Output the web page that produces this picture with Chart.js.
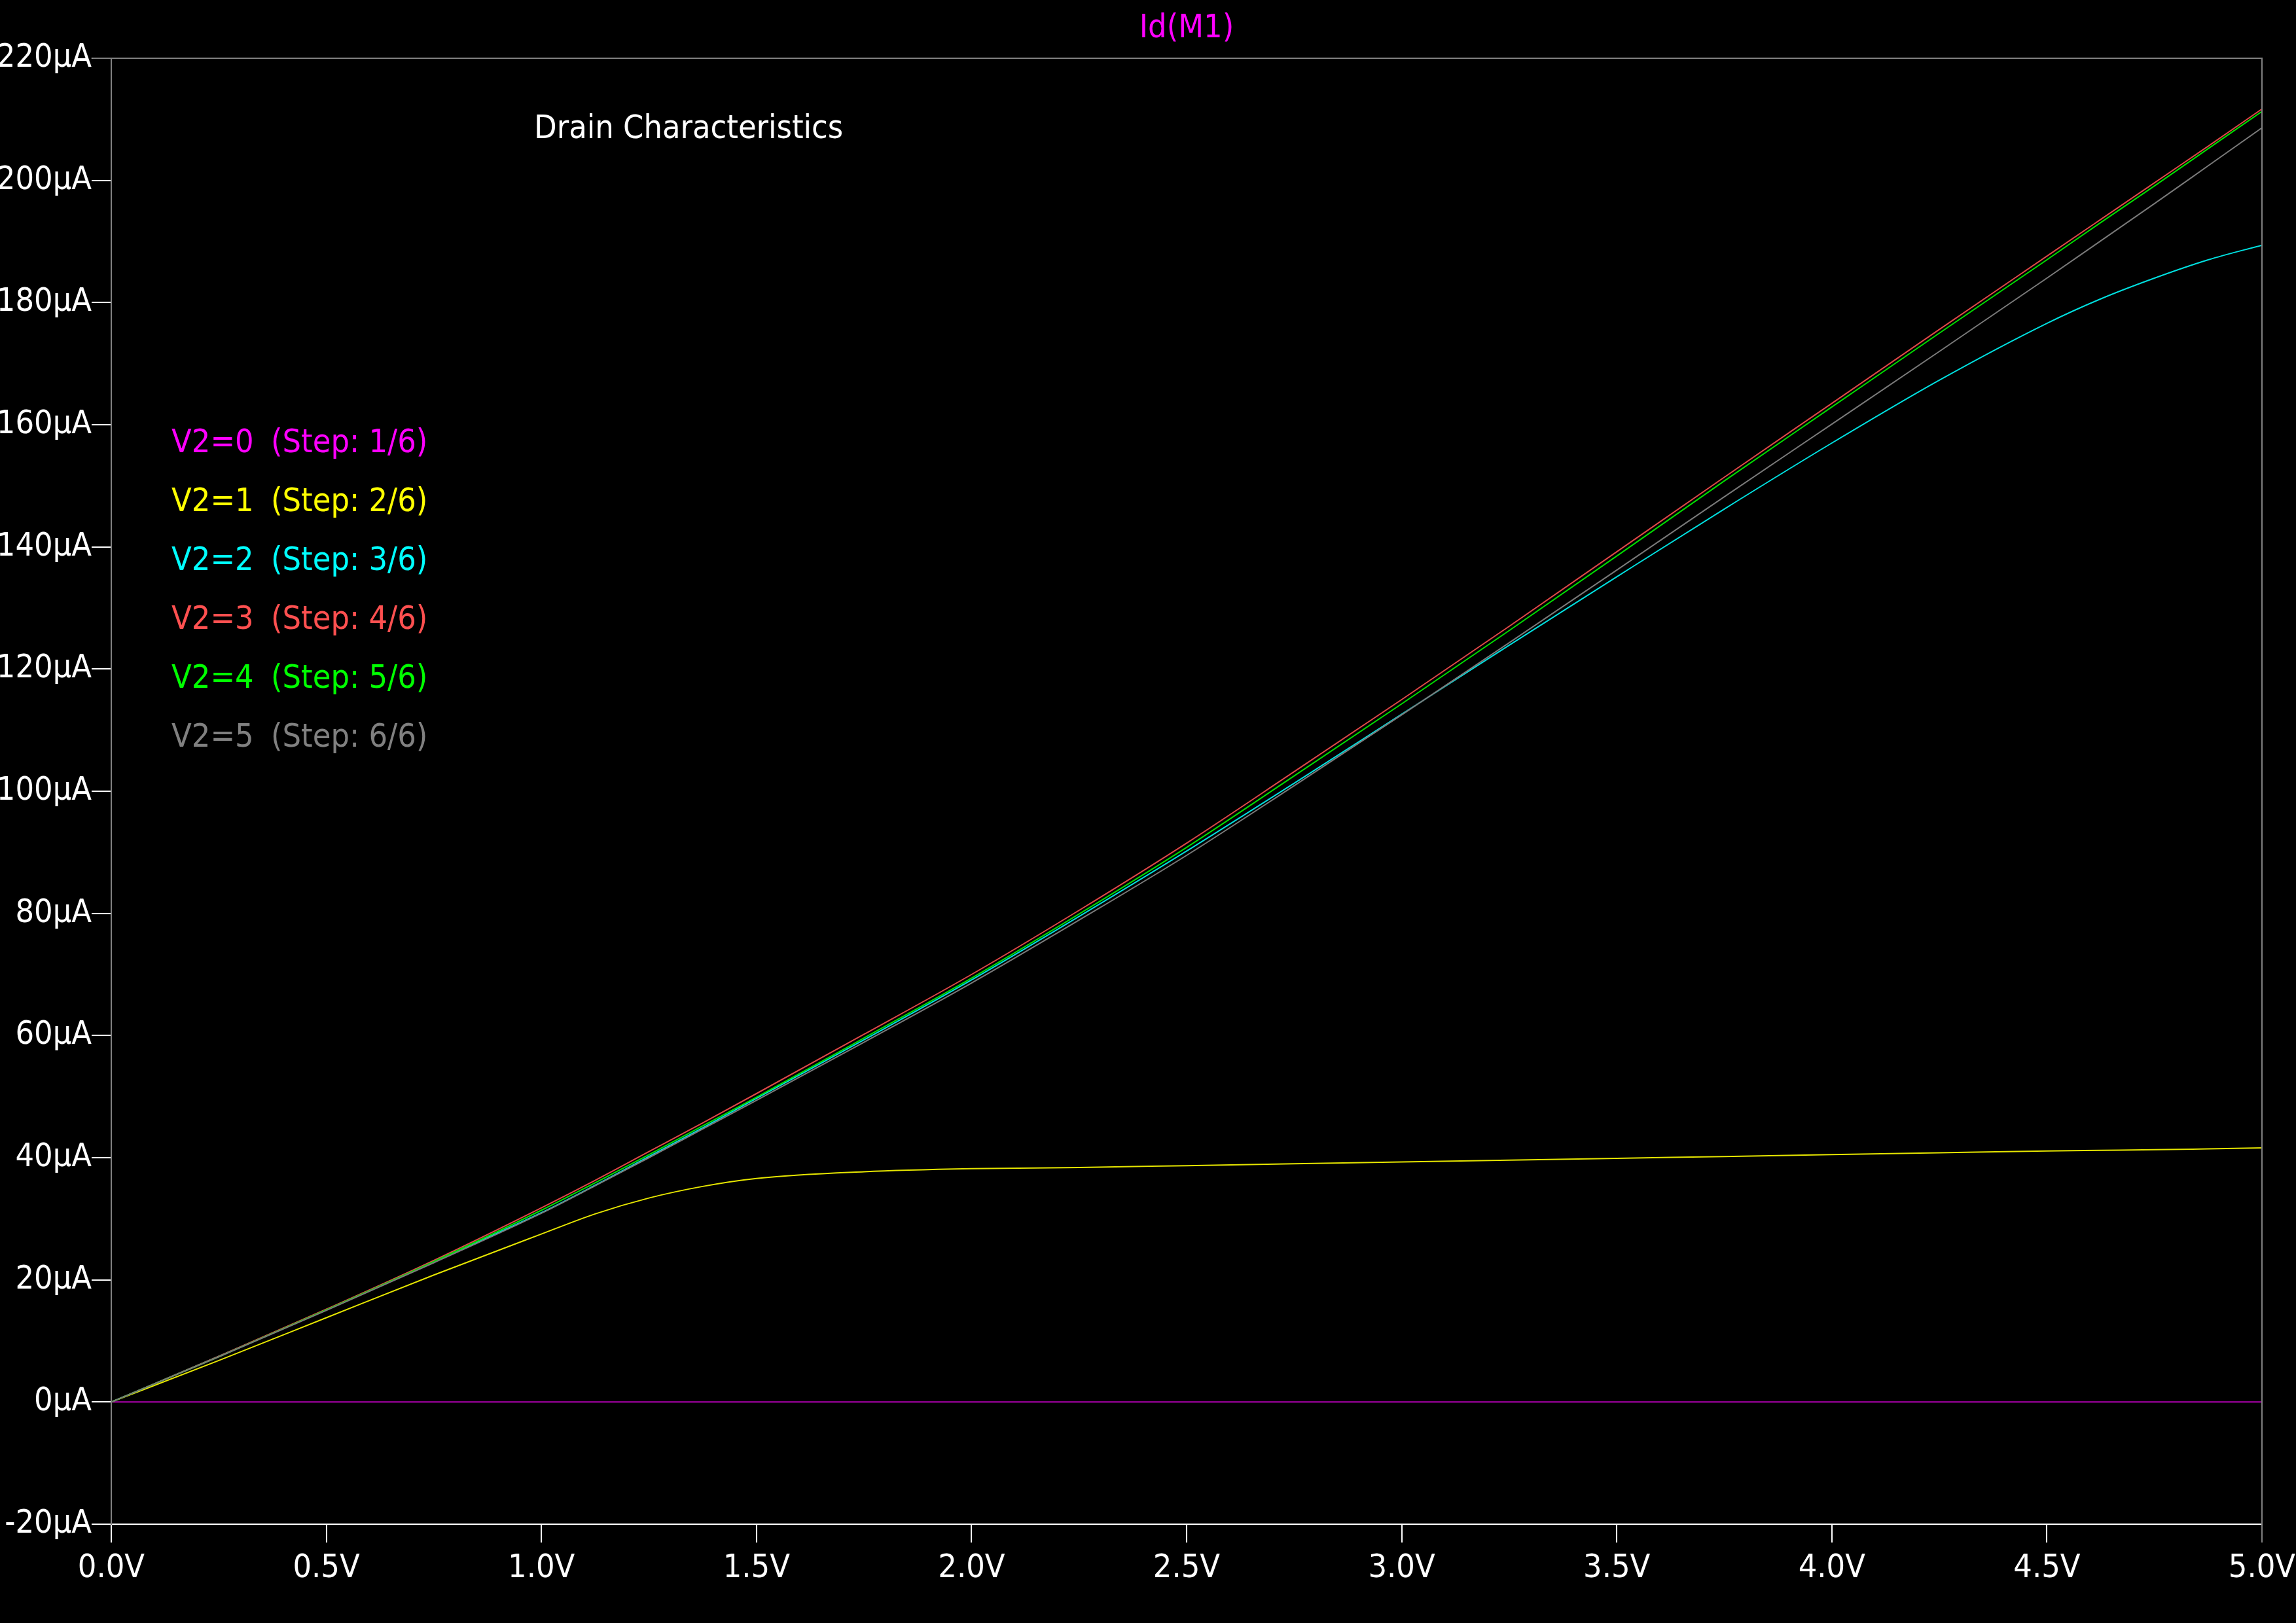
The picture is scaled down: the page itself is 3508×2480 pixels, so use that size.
<!DOCTYPE html>
<html>
<head>
<meta charset="utf-8">
<script src="https://cdn.jsdelivr.net/npm/chart.js@4/dist/chart.umd.min.js"></script>
<style>
html, body { margin: 0; padding: 0; background: #000; }
canvas { display: block; }
</style>
</head>
<body>
<canvas id="c" width="3508" height="2480"></canvas>
<script>
var FONT = '"DejaVu Sans Condensed", "DejaVu Sans", sans-serif';

// 漏极电压 (V)
var vds = [0, 0.25, 0.5, 0.75, 1.0, 1.125, 1.25, 1.375, 1.5, 1.75, 2.0, 2.25, 2.5, 2.75, 3.0, 3.25, 3.5, 3.75, 4.0, 4.25, 4.5, 4.625, 4.75, 4.875, 5.0];
// Id(M1) (µA)，每个步进一条
var idStep1 = [0, 0, 0, 0, 0, 0, 0, 0, 0, 0, 0, 0, 0, 0, 0, 0, 0, 0, 0, 0, 0, 0, 0, 0, 0];
var idStep2 = [0, 6.8, 13.8, 20.8, 27.5, 30.8, 33.4, 35.3, 36.6, 37.7, 38.2, 38.4, 38.7, 39.0, 39.3, 39.6, 39.9, 40.2, 40.5, 40.8, 41.1, 41.2, 41.3, 41.45, 41.6];
var idStep3 = [0, 7.5, 15.1, 23.0, 31.0, 35.5, 40.2, 44.9, 49.7, 59.3, 69.1, 79.5, 90.2, 101.3, 112.6, 123.9, 135.1, 146.2, 157.0, 167.3, 176.6, 180.6, 184.0, 187.0, 189.4];
var idStep4 = [0, 7.5, 15.2, 23.2, 31.8, 36.3, 41.0, 45.7, 50.5, 60.2, 70.0, 80.5, 91.5, 103.2, 115.0, 127.0, 139.2, 151.4, 163.5, 175.6, 187.6, 193.6, 199.6, 205.6, 211.7];
var idStep5 = [0, 7.4, 15.1, 23.0, 31.4, 35.9, 40.5, 45.2, 49.9, 59.6, 69.4, 79.9, 90.8, 102.5, 114.3, 126.3, 138.5, 150.8, 162.9, 175.0, 187.0, 193.1, 199.1, 205.2, 211.3];
var idStep6 = [0, 7.4, 15.0, 22.8, 30.9, 35.4, 40.0, 44.7, 49.4, 58.9, 68.6, 78.9, 89.5, 100.9, 112.5, 124.3, 136.2, 148.2, 160.1, 172.0, 184.0, 190.1, 196.2, 202.4, 208.6];

var stepNames = ['V2=0', 'V2=1', 'V2=2', 'V2=3', 'V2=4', 'V2=5'];
var stepTags = ['(Step: 1/6)', '(Step: 2/6)', '(Step: 3/6)', '(Step: 4/6)', '(Step: 5/6)', '(Step: 6/6)'];
var traceName = 'Id(M1)';
var plotLabel = 'Drain Characteristics';

// 颜色
var stepColors = ['#ff00ff', '#ffff00', '#00ffff', '#ff5050', '#00ff00', '#808080'];
var lineColors = ['#b000b0', '#e6e600', '#00e0e0', '#e04848', '#00e000', '#7a7a7a'];

var series = [idStep1, idStep2, idStep3, idStep4, idStep5, idStep6];

function toPoints(ys) {
    var pts = [];
    for (var i = 0; i < vds.length; i++) {
        pts.push({ x: vds[i], y: ys[i] });
    }
    return pts;
}

var datasets = [];
for (var i = 0; i < series.length; i++) {
    datasets.push({
        label: stepNames[i],
        data: toPoints(series[i]),
        borderColor: lineColors[i],
        borderWidth: 2,
        pointRadius: 0,
        cubicInterpolationMode: 'monotone',
        fill: false,
        order: series.length - i
    });
}

// 边框、标题和图例文字
var ltspicePlugin = {
    id: 'ltspice',
    afterDraw: function (chart) {
        var ctx = chart.ctx, a = chart.chartArea;
        ctx.save();
        ctx.strokeStyle = '#808080';
        ctx.lineWidth = 2;
        ctx.beginPath();
        ctx.moveTo(a.left - 29, a.top);
        ctx.lineTo(a.right, a.top);
        ctx.lineTo(a.right, a.bottom + 28);
        ctx.stroke();

        ctx.font = '50px ' + FONT;
        ctx.textBaseline = 'alphabetic';
        ctx.textAlign = 'center';
        ctx.fillStyle = '#ff00ff';
        ctx.fillText(traceName, (a.left + a.right) / 2, 57);

        ctx.textAlign = 'left';
        ctx.fillStyle = '#ffffff';
        ctx.fillText(plotLabel, a.left + 646, 211);

        for (var i = 0; i < stepNames.length; i++) {
            ctx.fillStyle = stepColors[i];
            ctx.fillText(stepNames[i], a.left + 92, 691 + 90 * i);
            ctx.fillText(stepTags[i], a.left + 244, 691 + 90 * i);
        }
        ctx.restore();
    }
};

var chart = new Chart(document.getElementById('c'), {
    type: 'line',
    data: { datasets: datasets },
    options: {
        responsive: false,
        animation: false,
        devicePixelRatio: 1,
        layout: { padding: { top: 89, right: 52, left: 0, bottom: 0 } },
        plugins: {
            legend: { display: false },
            title: { display: false },
            tooltip: { enabled: false }
        },
        scales: {
            x: {
                type: 'linear',
                min: 0,
                max: 5,
                afterFit: function (scale) {
                    scale.height = 151;
                    scale.paddingLeft = 0;
                    scale.paddingRight = 0;
                },
                ticks: {
                    stepSize: 0.5,
                    color: '#ffffff',
                    padding: 10,
                    maxRotation: 0,
                    font: { family: FONT, size: 50 },
                    callback: function (v) { return v.toFixed(1) + 'V'; }
                },
                grid: { drawOnChartArea: false, color: '#ffffff', lineWidth: 2, tickLength: 28 },
                border: { color: '#ffffff', width: 2 }
            },
            y: {
                min: -20,
                max: 220,
                afterFit: function (scale) { scale.width = 170; },
                ticks: {
                    stepSize: 20,
                    color: '#ffffff',
                    padding: 0,
                    font: { family: FONT, size: 50 },
                    callback: function (v) { return v + 'µA'; }
                },
                grid: { drawOnChartArea: false, color: '#ffffff', lineWidth: 2, tickLength: 30 },
                border: { color: '#808080', width: 2 }
            }
        }
    },
    plugins: [ltspicePlugin]
});
</script>
</body>
</html>
